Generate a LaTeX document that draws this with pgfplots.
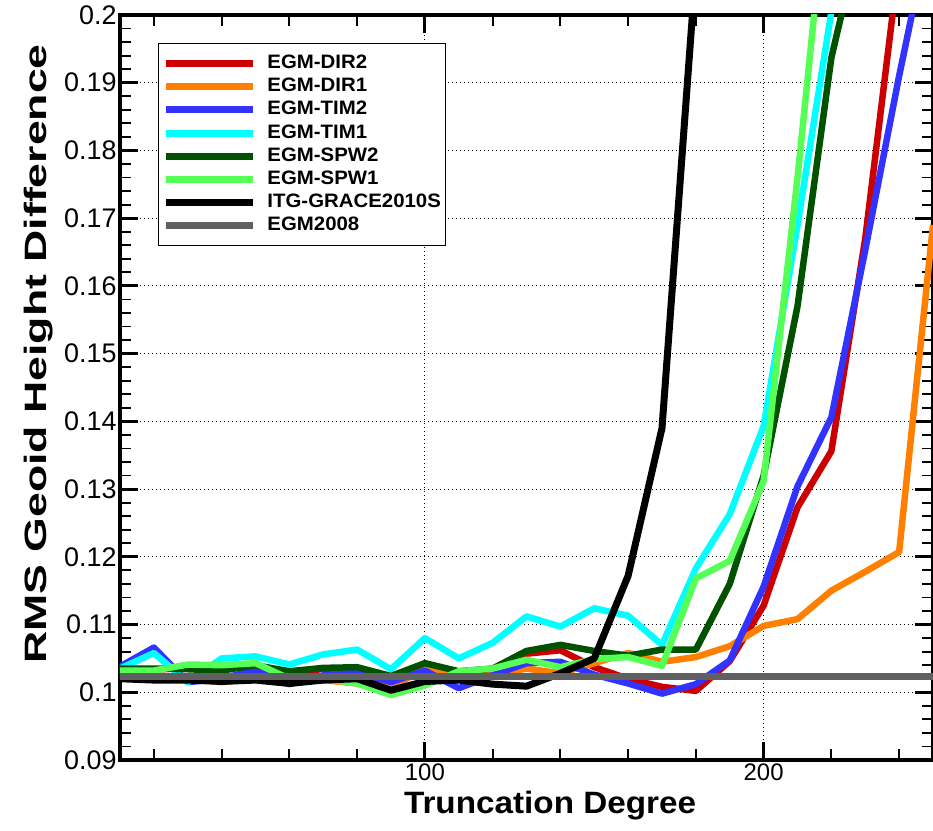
\documentclass[border=0pt]{standalone}
\usepackage{pgfplots}
\pgfplotsset{compat=1.18}
\usepackage{pgfplotstable}
\usepackage{graphicx}
\usepackage{fontspec}
\setmainfont{Liberation Sans}
\definecolor{cdirtwo}{RGB}{204,0,0}
\definecolor{cdirone}{RGB}{255,128,0}
\definecolor{ctimtwo}{RGB}{51,51,255}
\definecolor{ctimone}{RGB}{0,255,255}
\definecolor{cspwtwo}{RGB}{0,82,0}
\definecolor{cspwone}{RGB}{85,255,85}
\definecolor{citg}{RGB}{0,0,0}
\definecolor{cegm}{RGB}{96,96,96}
\newcommand{\legtxt}[1]{\scalebox{1.05}[1]{#1}}

\pgfplotstableread{
x    dir2    dir1    tim2    tim1    spw2    spw1    itg     egm
10   0.1025  0.1025  0.1038  0.1035  0.1035  0.1032  0.1020  0.1023
20   0.1025  0.1022  0.1066  0.1058  0.1035  0.1032  0.1018  0.1023
30   0.1022  0.1020  0.1015  0.1015  0.1034  0.1041  0.1018  0.1023
40   0.1022  0.1015  0.1020  0.1050  0.1032  0.1040  0.1016  0.1023
50   0.1028  0.1020  0.1033  0.1053  0.1040  0.1043  0.1018  0.1023
60   0.1025  0.1022  0.1012  0.1041  0.1031  0.1020  0.1013  0.1023
70   0.1035  0.1018  0.1025  0.1056  0.1036  0.1020  0.1018  0.1023
80   0.1035  0.1013  0.1030  0.1063  0.1037  0.1013  0.1020  0.1023
90   0.1008  0.1008  0.1015  0.1034  0.1024  0.0996  0.1003  0.1023
100  0.1035  0.1035  0.1032  0.1080  0.1043  0.1010  0.1016  0.1023
110  0.1025  0.1022  0.1006  0.1050  0.1031  0.1031  0.1018  0.1023
120  0.1025  0.1025  0.1025  0.1073  0.1035  0.1035  0.1012  0.1023
130  0.1057  0.1035  0.1043  0.1112  0.1061  0.1048  0.1009  0.1023
140  0.1062  0.1028  0.1045  0.1097  0.1070  0.1037  0.1028  0.1023
150  0.1037  0.1043  0.1026  0.1124  0.1061  0.1049  0.1050  0.1023
160  0.1020  0.1058  0.1013  0.1113  0.1054  0.1052  0.1172  0.1023
170  0.1008  0.1045  0.0998  0.1070  0.1063  0.1039  0.1390  0.1023
180  0.1002  0.1052  0.1012  0.1183  0.1063  0.1168  0.2070  0.1023
190  0.1046  0.1068  0.1047  0.1263  0.1160  0.1194  0.3500  0.1023
200  0.1128  0.1098  0.1156  0.1393  0.1320  0.1312  0.4500  0.1023
210  0.1273  0.1108  0.1304  0.1690  0.1570  0.1760  0.5500  0.1023
220  0.1356  0.1150  0.1406  0.2005  0.1937  0.2250  0.6500  0.1023
230  0.1670  0.1178  0.1653  0.2350  0.2150  0.2600  0.7500  0.1023
240  0.2080  0.1207  0.1910  0.2700  0.2400  0.3000  0.8500  0.1023
250  0.2500  0.1690  0.2150  0.3000  0.2700  0.3400  0.9500  0.1023
}\datatable

\begin{document}
\begin{tikzpicture}
\begin{axis}[
  scale only axis,
  width=813bp, height=745bp,
  xmin=10, xmax=250, ymin=0.09, ymax=0.2,
  axis line style={line width=3.5bp},
  xtick={100,200},
  minor xtick={20,40,60,80,120,140,160,180,220,240},
  ytick={0.09,0.1,0.11,0.12,0.13,0.14,0.15,0.16,0.17,0.18,0.19,0.2},
  yticklabels={0.09,0.1,0.11,0.12,0.13,0.14,0.15,0.16,0.17,0.18,0.19,0.2},
  minor ytick={0.092,0.094,0.096,0.098,0.102,0.104,0.106,0.108,0.112,0.114,0.116,0.118,0.122,0.124,0.126,0.128,0.132,0.134,0.136,0.138,0.142,0.144,0.146,0.148,0.152,0.154,0.156,0.158,0.162,0.164,0.166,0.168,0.172,0.174,0.176,0.178,0.182,0.184,0.186,0.188,0.192,0.194,0.196,0.198},
  tick align=inside,
  major tick length=18bp, minor tick length=11bp,
  major tick style={line width=3bp, black},
  minor tick style={line width=1.8bp, black},
  grid=major,
  major grid style={black, line width=1bp, dash pattern=on 1bp off 3bp},
  /pgf/number format/assume math mode=true,
  xticklabel style={font=\fontsize{24}{26}\selectfont},
  yticklabel style={font=\fontsize{27}{29}\selectfont},
  xlabel={\scalebox{1.077}[1]{Truncation Degree}},
  xlabel style={font=\bfseries\fontsize{31}{33}\selectfont, at={(axis description cs:0.529,-0.0617)}, anchor=center},
  ylabel={\scalebox{1.444}[1]{RMS Geoid Height Difference}},
  ylabel style={font=\bfseries\fontsize{31}{33}\selectfont, at={(axis description cs:-0.0996,0.545)}, anchor=center},
  legend cell align=left,
  legend image code/.code={\draw[#1, line width=7bp, line cap=butt] (0bp,0bp) -- (87bp,0bp);},
  legend style={at={(axis description cs:0.0467,0.9624)}, anchor=north west,
    draw=black, line width=1bp, fill=white, inner xsep=4bp, inner ysep=10bp,
    font=\bfseries\fontsize{19.5}{21}\selectfont, row sep=3.2bp,
    nodes={inner sep=1bp, text height=14bp, text depth=4bp},
    /tikz/every odd column/.append style={column sep=10bp}},
  every axis plot/.append style={line join=round},
]
\addplot[color=cdirtwo, line width=6.5bp] table[x=x, y=dir2] {\datatable};
\addlegendentry{\legtxt{EGM-DIR2}}
\addplot[color=cdirone, line width=6.5bp] table[x=x, y=dir1] {\datatable};
\addlegendentry{\legtxt{EGM-DIR1}}
\addplot[color=ctimtwo, line width=6.5bp] table[x=x, y=tim2] {\datatable};
\addlegendentry{\legtxt{EGM-TIM2}}
\addplot[color=ctimone, line width=6.5bp] table[x=x, y=tim1] {\datatable};
\addlegendentry{\legtxt{EGM-TIM1}}
\addplot[color=cspwtwo, line width=6.5bp] table[x=x, y=spw2] {\datatable};
\addlegendentry{\legtxt{EGM-SPW2}}
\addplot[color=cspwone, line width=6.5bp] table[x=x, y=spw1] {\datatable};
\addlegendentry{\legtxt{EGM-SPW1}}
\addplot[color=citg, line width=7bp] table[x=x, y=itg] {\datatable};
\addlegendentry{\legtxt{ITG-GRACE2010S}}
\addplot[color=cegm, line width=7.5bp] table[x=x, y=egm] {\datatable};
\addlegendentry{\legtxt{EGM2008}}
\end{axis}
\pgfresetboundingbox
\path[use as bounding box] ([xshift=-120bp,yshift=-71bp]current axis.south west) rectangle ([yshift=15bp]current axis.north east);
\end{tikzpicture}
\end{document}
